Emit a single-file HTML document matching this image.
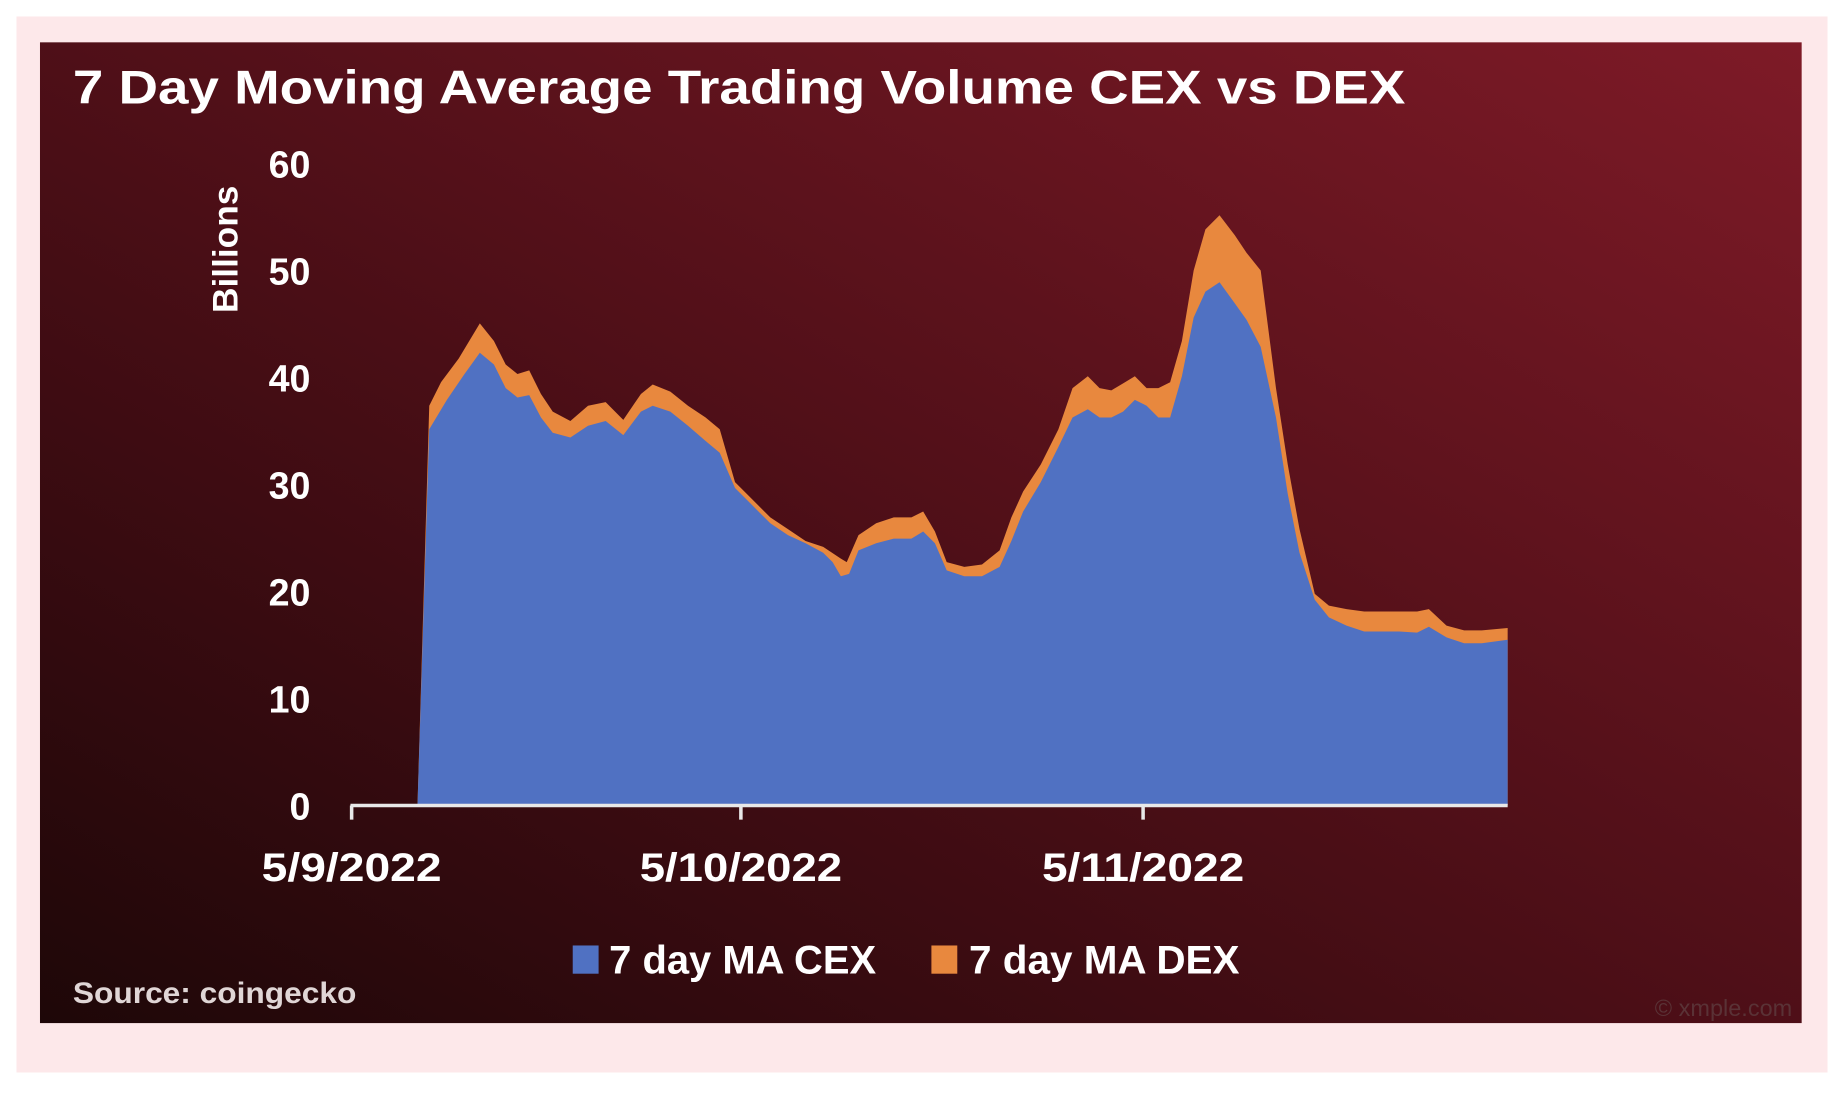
<!DOCTYPE html>
<html><head><meta charset="utf-8"><style>
html,body{margin:0;padding:0;background:#fff;width:1844px;height:1096px;overflow:hidden}
svg{display:block}
</style></head><body>
<svg width="1844" height="1096" viewBox="0 0 1568 932" preserveAspectRatio="none" xmlns="http://www.w3.org/2000/svg">
<defs>
<linearGradient id="bg" x1="0" y1="1" x2="1" y2="0">
<stop offset="0" stop-color="#1e0708"/>
<stop offset="0.45" stop-color="#4a0e16"/>
<stop offset="1" stop-color="#7e1a27"/>
</linearGradient>
</defs>
<rect x="0" y="0" width="1568" height="932" fill="#fff"/>
<rect x="14" y="14" width="1540" height="898" fill="#fde8ea"/>
<rect x="34" y="36" width="1498" height="834" fill="url(#bg)"/>
<text x="62" y="88" font-family="Liberation Sans, sans-serif" font-weight="bold" font-size="40" fill="#fff" textLength="1133" lengthAdjust="spacingAndGlyphs">7 Day Moving Average Trading Volume CEX vs DEX</text>
<g font-family="Liberation Sans, sans-serif" font-weight="bold" font-size="32" fill="#fff" text-anchor="end">
<text x="264" y="151">60</text><text x="264" y="242">50</text><text x="264" y="333">40</text>
<text x="264" y="424">30</text><text x="264" y="515">20</text><text x="264" y="606">10</text><text x="264" y="697">0</text>
</g>
<text transform="translate(202,212) rotate(-90)" text-anchor="middle" font-family="Liberation Sans, sans-serif" font-weight="bold" font-size="30" fill="#fff">Billions</text>
<polygon fill="#e8883e" points="355,685 365,345 375,325 390,305 408,275 420,290 430,310 440,318 450,315 460,335 470,350 485,358 500,345 515,342 530,357 545,335 555,327 570,333 585,345 600,355 612,365 625,410 640,425 655,440 670,450 685,460 700,465 715,475 720,478 730,455 745,445 760,440 775,440 785,435 795,452 805,478 820,482 835,480 850,468 860,440 870,418 885,395 900,365 912,330 925,320 935,330 945,332 955,326 965,320 975,330 985,330 995,325 1005,290 1015,230 1025,195 1037,183 1050,200 1060,215 1072,230 1085,330 1095,395 1105,450 1118,505 1130,515 1145,518 1160,520 1175,520 1190,520 1205,520 1215,518 1230,532 1245,536 1260,536 1282,534 1282,685"/>
<polygon fill="#5071c2" points="355,685 365,365 380,340 395,318 408,300 420,310 430,330 440,338 450,336 460,355 470,368 485,372 500,362 515,358 530,370 545,350 555,345 570,350 585,362 600,375 612,385 625,415 640,430 655,445 670,455 685,462 700,470 708,478 715,490 722,488 730,468 745,462 760,458 775,458 785,452 795,462 805,485 820,490 835,490 850,482 860,460 870,435 885,410 900,380 912,355 925,348 935,355 945,355 955,350 965,340 975,345 985,355 995,355 1005,320 1015,270 1025,248 1037,240 1050,258 1060,272 1072,295 1085,355 1095,420 1105,470 1118,510 1130,525 1145,532 1160,537 1175,537 1190,537 1205,538 1215,533 1230,542 1245,547 1260,547 1282,544 1282,685"/>
<g stroke="#e8e8e8" stroke-width="3" fill="none">
<line x1="298" y1="685" x2="1282" y2="685"/>
<line x1="299" y1="685" x2="299" y2="697"/><line x1="630" y1="685" x2="630" y2="697"/><line x1="972" y1="685" x2="972" y2="697"/>
</g>
<g font-family="Liberation Sans, sans-serif" font-weight="bold" font-size="34" fill="#fff" text-anchor="middle">
<text x="299" y="749" textLength="153" lengthAdjust="spacingAndGlyphs">5/9/2022</text>
<text x="630" y="749" textLength="172" lengthAdjust="spacingAndGlyphs">5/10/2022</text>
<text x="972" y="749" textLength="172" lengthAdjust="spacingAndGlyphs">5/11/2022</text>
</g>
<rect x="487" y="804" width="22" height="24" fill="#5071c2"/>
<text x="518" y="828" font-family="Liberation Sans, sans-serif" font-weight="bold" font-size="34" fill="#fff" textLength="227" lengthAdjust="spacingAndGlyphs">7 day MA CEX</text>
<rect x="792" y="804" width="22" height="24" fill="#e8883e"/>
<text x="824" y="828" font-family="Liberation Sans, sans-serif" font-weight="bold" font-size="34" fill="#fff" textLength="230" lengthAdjust="spacingAndGlyphs">7 day MA DEX</text>
<text x="62" y="853" font-family="Liberation Sans, sans-serif" font-weight="bold" font-size="25" fill="#e0d6d6" textLength="241" lengthAdjust="spacingAndGlyphs">Source: coingecko</text>
<text x="1524" y="864" text-anchor="end" font-family="Liberation Sans, sans-serif" font-size="20" fill="#5a3236">© xmple.com</text>
</svg>
</body></html>
